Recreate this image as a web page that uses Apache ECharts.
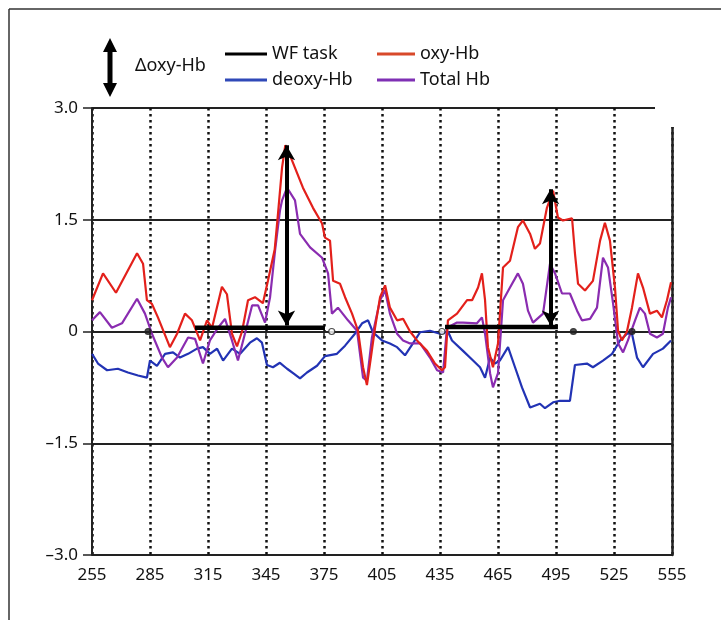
<!DOCTYPE html>
<html>
<head>
<meta charset="utf-8">
<script src="https://cdn.jsdelivr.net/npm/echarts/dist/echarts.min.js"></script>
<style>
  html, body { margin: 0; background: #fff; }
  #main { width: 721px; height: 620px; }
</style>
</head>
<body>
<div id="main"></div>
<script>
// time offset: axis runs 0..300 internally, labels show 255..555
const T0 = 255;
const xTicks = [255, 285, 315, 345, 375, 405, 435, 465, 495, 525, 555];
const yTicks = [-3.0, -1.5, 0, 1.5, 3.0];

// [time, value]
const oxyHb = [[255,0.42],[260.7,0.78],[267.4,0.52],[278.3,1.05],[281.4,0.91],[283.4,0.42],[286,0.37],[289.1,0.19],[295.3,-0.21],[299,-0.03],[303.1,0.24],[306.7,0.15],[310.9,-0.12],[314.5,0.15],[317.1,0.05],[322.2,0.6],[324.8,0.5],[327.4,-0.03],[330,-0.2],[332.6,0.0],[335.7,0.42],[339.3,0.46],[343.4,0.38],[346,0.68],[349.5,1.1],[351.2,1.58],[353.3,2.2],[355,2.5],[358.4,2.3],[364.1,1.93],[369.3,1.66],[374,1.45],[375.5,1.26],[378.1,1.22],[379.7,0.68],[383.3,0.64],[385.9,0.46],[389.5,0.24],[392.6,0.01],[395.2,-0.48],[397.2,-0.72],[398.8,-0.43],[401.4,0.05],[404,0.46],[406.6,0.62],[409.1,0.32],[412.8,0.15],[415.9,0.17],[419.5,0],[423.1,-0.12],[428.3,-0.26],[432.4,-0.43],[436,-0.52],[437.6,-0.48],[439.1,0.15],[443.8,0.24],[449,0.42],[451.6,0.42],[454.7,0.59],[456.7,0.78],[458.3,0.42],[459.8,-0.21],[462.4,-0.48],[465,-0.16],[467.6,0.86],[471.2,0.95],[475.3,1.4],[477.9,1.49],[481.6,1.31],[484.1,1.11],[486.7,1.18],[490.3,1.66],[493.5,1.89],[496,1.53],[498.6,1.49],[503.3,1.52],[504.8,1.05],[506.4,0.64],[510,0.55],[514.1,0.68],[517.8,1.22],[520.3,1.46],[522.9,1.22],[525.5,0.59],[527.1,0.01],[529.1,-0.12],[531.7,0],[534.3,0.32],[537.4,0.78],[540,0.59],[543.6,0.24],[547.2,0.28],[549.8,0.19],[552.4,0.42],[554.5,0.66]];

const totalHb = [[255,0.15],[259.1,0.26],[265.3,0.05],[270.5,0.11],[278.3,0.44],[282.4,0.24],[286,-0.03],[291.2,-0.35],[294.3,-0.48],[299,-0.35],[304.7,-0.08],[308.3,-0.1],[312.4,-0.43],[316,-0.12],[320.2,0.05],[323.8,0.17],[327.4,-0.12],[330.5,-0.39],[334.1,-0.03],[337.8,0.35],[340.9,0.35],[344.5,0.12],[347.1,0.46],[349.7,1.09],[352.2,1.62],[353.3,1.76],[355.9,1.93],[360,1.76],[362.6,1.31],[367.8,1.13],[374,0.99],[377.1,0.78],[379.1,0.24],[382.2,0.32],[387.4,0.15],[392.1,0.01],[395.2,-0.62],[397.2,-0.66],[399.8,-0.08],[404,0.42],[406.6,0.55],[409.1,0.24],[412.8,-0.03],[415.9,-0.12],[419.5,-0.16],[424.7,-0.16],[429.8,-0.35],[433.5,-0.52],[436.6,-0.55],[438.6,0.05],[443.8,0.12],[446.9,0.12],[454.1,0.11],[456.7,0.19],[458.3,-0.03],[460.9,-0.56],[462.4,-0.75],[465,-0.56],[467.6,0.42],[471.2,0.59],[475.3,0.78],[477.9,0.64],[480.5,0.28],[483.1,0.12],[488.3,0.24],[491.9,0.91],[494.5,0.78],[498.1,0.51],[502.2,0.51],[505.9,0.28],[508.4,0.15],[512.6,0.17],[516.2,0.32],[519.3,0.99],[521.9,0.86],[524.5,0.38],[527.1,-0.16],[529.7,-0.28],[532.2,-0.12],[535.9,0.15],[538.4,0.32],[541,0.24],[543.6,-0.03],[547.2,-0.08],[550.3,-0.03],[552.9,0.32],[554.5,0.46]];

const deoxyHb = [[255,-0.3],[258.1,-0.43],[262.8,-0.52],[268.4,-0.5],[273.6,-0.55],[278.8,-0.59],[283.4,-0.62],[285,-0.39],[288.6,-0.46],[292.8,-0.3],[296.9,-0.28],[300.5,-0.35],[304.7,-0.3],[309.3,-0.23],[312.4,-0.21],[316,-0.3],[319.7,-0.23],[322.8,-0.39],[327.4,-0.23],[331.6,-0.3],[336.7,-0.15],[340.3,-0.09],[342.9,-0.15],[345.5,-0.45],[348.6,-0.48],[352.2,-0.42],[355.9,-0.5],[359,-0.56],[362.6,-0.63],[366.2,-0.55],[371.4,-0.46],[375.5,-0.33],[381.7,-0.3],[385.9,-0.19],[391,-0.03],[394.7,0.11],[397.8,0.15],[400.3,-0.01],[405,-0.12],[409.1,-0.16],[412.8,-0.21],[416.9,-0.32],[421,-0.16],[424.7,-0.01],[429.8,0.01],[435,-0.03],[439.1,0],[441.2,-0.12],[446.9,-0.26],[452.1,-0.39],[455.7,-0.48],[458.3,-0.62],[460.9,-0.35],[463.4,-0.43],[466,-0.39],[470.2,-0.21],[473.8,-0.48],[477.4,-0.75],[481.6,-1.02],[486.7,-0.97],[489.3,-1.03],[493.5,-0.95],[497.1,-0.93],[502.2,-0.93],[504.8,-0.45],[511,-0.43],[514.1,-0.48],[519.3,-0.39],[524,-0.3],[528.1,-0.12],[531.7,-0.03],[534.3,-0.03],[536.9,-0.35],[540,-0.48],[545.2,-0.3],[550.3,-0.23],[554.5,-0.12]];

// WF task blocks: [start, end, level]
const wfTask = [[308.3, 375.5, 0.05], [437.6, 496, 0.06]];
// double arrows: [time, from, to]
const arrows = [[355.6, 0.08, 2.5], [492.2, 0.08, 1.91]];
// event dots on the zero line: [time, open?]
const eventDots = [[284, false], [379, true], [436, true], [504, false], [534.3, false]];

const FONT = 'Noto Sans';
const shift = arr => arr.map(p => [p[0] - T0, p[1]]);

const chart = echarts.init(document.getElementById('main'), null, { renderer: 'canvas' });

const wfSeries = wfTask.map((w, i) => ({
  name: 'WF task',
  type: 'line',
  data: [[w[0] - T0, w[2]], [w[1] - T0, w[2]]],
  showSymbol: false,
  lineStyle: { color: '#000', width: 4.5 },
  itemStyle: { color: '#000' },
  z: 5,
  silent: true,
  markLine: i === 0 ? {
    silent: true,
    symbol: ['arrow', 'arrow'],
    symbolSize: [13, 15],
    label: { show: false },
    lineStyle: { color: '#000', width: 4, type: 'solid' },
    data: arrows.map(a => [{ coord: [a[0] - T0, a[1]] }, { coord: [a[0] - T0, a[2]] }])
  } : undefined
}));

const legendText = { fontFamily: FONT, fontSize: 18, color: '#111' };

const option = {
  animation: false,
  backgroundColor: '#fff',
  textStyle: { fontFamily: FONT },
  grid: { left: 92, right: 49, top: 108, bottom: 65 },
  legend: [
    {
      left: 225, top: 45, orient: 'vertical', padding: 0,
      itemWidth: 42, itemHeight: 3, itemGap: 8, icon: 'rect',
      data: ['WF task', 'deoxy-Hb'],
      textStyle: legendText
    },
    {
      left: 377, top: 45, orient: 'vertical', padding: 0,
      itemWidth: 38, itemHeight: 3, itemGap: 8, icon: 'rect',
      data: ['oxy-Hb', 'Total Hb'],
      textStyle: legendText
    }
  ],
  xAxis: {
    type: 'value',
    min: 0, max: 300, interval: 30,
    axisLine: { show: true, lineStyle: { color: '#222', width: 2 } },
    axisTick: { show: true, length: 7, lineStyle: { color: '#222', width: 1.5 } },
    axisLabel: {
      formatter: v => String(v + T0),
      fontFamily: FONT, fontSize: 17, color: '#111', margin: 12
    },
    splitLine: { show: true, lineStyle: { color: '#111', width: 2.5, type: [2.5, 3.5] } }
  },
  yAxis: [
    {
      type: 'value',
      min: yTicks[0], max: yTicks[yTicks.length - 1], interval: 1.5,
      axisLine: { show: true, lineStyle: { color: '#222', width: 2 } },
      axisTick: { show: true, length: 9, lineStyle: { color: '#222', width: 1.5 } },
      axisLabel: {
        formatter: v => v === 0 ? '0' : v.toFixed(1).replace('-', '\u2013'),
        fontFamily: FONT, fontSize: 17, color: '#111', margin: 14
      },
      splitLine: { show: true, lineStyle: { color: '#222', width: 2 } }
    },
    {
      type: 'value', position: 'right',
      min: yTicks[0], max: yTicks[yTicks.length - 1],
      axisLine: { show: true, lineStyle: { color: '#222', width: 2.5 } },
      axisTick: { show: false }, axisLabel: { show: false }, splitLine: { show: false }
    }
  ],
  series: [
    {
      name: 'deoxy-Hb', type: 'line', data: shift(deoxyHb), showSymbol: false,
      lineStyle: { color: '#2233b4', width: 2.2 }, itemStyle: { color: '#2f49b8' }, z: 2
    },
    {
      name: 'Total Hb', type: 'line', data: shift(totalHb), showSymbol: false,
      lineStyle: { color: '#8a2cb0', width: 2.2 }, itemStyle: { color: '#7f30b4' }, z: 3
    },
    {
      name: 'oxy-Hb', type: 'line', data: shift(oxyHb), showSymbol: false,
      lineStyle: { color: '#e3201b', width: 2.2 }, itemStyle: { color: '#d8492a' }, z: 4
    },
    ...wfSeries,
    {
      name: 'events', type: 'scatter', z: 6, silent: true,
      symbolSize: 6,
      data: eventDots.map(d => ({
        value: [d[0] - T0, 0],
        itemStyle: { color: d[1] ? '#fff' : '#222', borderColor: '#222', borderWidth: 1.2 }
      }))
    }
  ],
  graphic: [
    // figure frame (top and left)
    { type: 'line', shape: { x1: 9, y1: 9, x2: 721, y2: 9 }, style: { stroke: '#333', lineWidth: 1.5 } },
    { type: 'line', shape: { x1: 9, y1: 9, x2: 9, y2: 620 }, style: { stroke: '#333', lineWidth: 1.5 } },
    // cut-off top right corner of the plot box
    { type: 'rect', shape: { x: 655, y: 96, width: 50, height: 31 }, style: { fill: '#fff' }, z: 100 },
    // Δoxy-Hb double arrow key
    {
      type: 'polygon', z: 100,
      shape: { points: [[110,38],[117,52],[112.5,52],[112.5,83],[117,83],[110,97],[103,83],[107.5,83],[107.5,52],[103,52]] },
      style: { fill: '#000' }
    },
    {
      type: 'text', left: 135, top: 57, z: 100,
      style: { text: '\u0394oxy-Hb', font: '18px "Noto Sans"', fill: '#111' }
    }
  ]
};

chart.setOption(option);
</script>
</body>
</html>
